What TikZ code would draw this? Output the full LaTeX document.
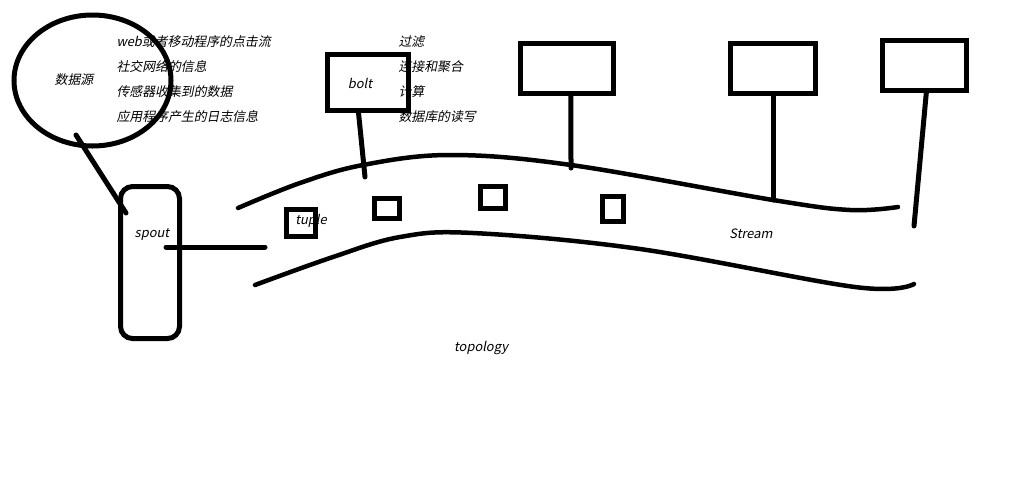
\documentclass[tikz,border=0pt]{standalone}
\usepackage{fontspec}
\setmainfont{Noto Sans CJK SC}[FakeSlant=0.2]
\usetikzlibrary{shapes.geometric,calc}
\newcommand{\px}{0.03cm}

\begin{document}
\begin{tikzpicture}[x=\px, y=-\px, line width=5*\px, line cap=round, font=\fontsize{11}{13}\selectfont]
	\useasboundingbox (0,0) rectangle (1018,499);
						\draw (92.5,80.5) node[draw=black, ellipse, inner sep=0pt, minimum width=157*\px, minimum height=131*\px] (src) {};
						\draw (74,80) node[inner sep=0pt] (srcl) {数据源};
						\draw (114,42) node[anchor=west, inner sep=0pt] (s1) {web或者移动程序的点击流};
						\draw (114,67) node[anchor=west, inner sep=0pt] (s2) {社交网络的信息};
						\draw (114,92) node[anchor=west, inner sep=0pt] (s3) {传感器收集到的数据};
						\draw (114,117) node[anchor=west, inner sep=0pt] (s4) {应用程序产生的日志信息};
						\draw (150,262.5) node[draw=black, rectangle, rounded corners=12*\px, inner sep=0pt, minimum width=59*\px, minimum height=152*\px] (spout) {};
						\draw (152,234) node[inner sep=0pt] (spoutl) {spout};
						\draw (368,82.5) node[draw=black, rectangle, inner sep=0pt, minimum width=81*\px, minimum height=56*\px] (b1) {};
						\draw (360,83) node[inner sep=0pt] (b1l) {bolt};
						\draw (567,68.5) node[draw=black, rectangle, inner sep=0pt, minimum width=93*\px, minimum height=50*\px] (b2) {};
						\draw (773,68.5) node[draw=black, rectangle, inner sep=0pt, minimum width=85*\px, minimum height=50*\px] (b3) {};
						\draw (924.5,65.5) node[draw=black, rectangle, inner sep=0pt, minimum width=84*\px, minimum height=50*\px] (b4) {};
						\draw (396,42) node[anchor=west, inner sep=0pt] (o1) {过滤};
						\draw (396,67) node[anchor=west, inner sep=0pt] (o2) {连接和聚合};
						\draw (396,92) node[anchor=west, inner sep=0pt] (o3) {计算};
						\draw (396,117) node[anchor=west, inner sep=0pt] (o4) {数据库的读写};
						\draw (301,223) node[draw=black, rectangle, inner sep=0pt, minimum width=29*\px, minimum height=27*\px] (t1) {};
						\draw (387,208.5) node[draw=black, rectangle, inner sep=0pt, minimum width=25*\px, minimum height=20*\px] (t2) {};
						\draw (493,197.5) node[draw=black, rectangle, inner sep=0pt, minimum width=25*\px, minimum height=22*\px] (t3) {};
						\draw (613,209) node[draw=black, rectangle, inner sep=0pt, minimum width=21*\px, minimum height=25*\px] (t4) {};
						\draw (311,221) node[inner sep=0pt] (t1l) {tuple};
						\draw (751,234) node[inner sep=0pt] (streaml) {Stream};
						\draw (481,348) node[inner sep=0pt] (topo) {topology};
						\draw[line width=4.5*\px] plot[smooth, tension=.6] coordinates {(238,208) (300,183) (363,165) (450,155) (571,165) (773,200) (850,210) (898,207)};
						\draw[line width=4.5*\px] plot[smooth, tension=.6] coordinates {(255,285) (333,257) (400,237) (473,233) (640,249) (855,287) (914,284)};
						\coordinate (srcfoot) at (76,135);
						\coordinate (emit) at (265,247);
						\coordinate (f1) at (365,177);
						\coordinate (f2) at (571,168);
						\coordinate (f3) at (773,200);
						\coordinate (f4) at (914,226);
						\draw (srcfoot) -- ([shift={(-24,-49.5)}]spout.center);
						\draw ([shift={(16,-15.5)}]spout.center) -- (emit);
						\draw ($(b1.south west)!.39!(b1.south east)$) -- (f1);
						\draw ($(b2.south west)!.54!(b2.south east)$) -- (f2);
						\draw (b3.south) -- (f3);
						\draw ($(b4.south west)!.52!(b4.south east)$) -- (f4);
		    			\end{tikzpicture}
\end{document}
